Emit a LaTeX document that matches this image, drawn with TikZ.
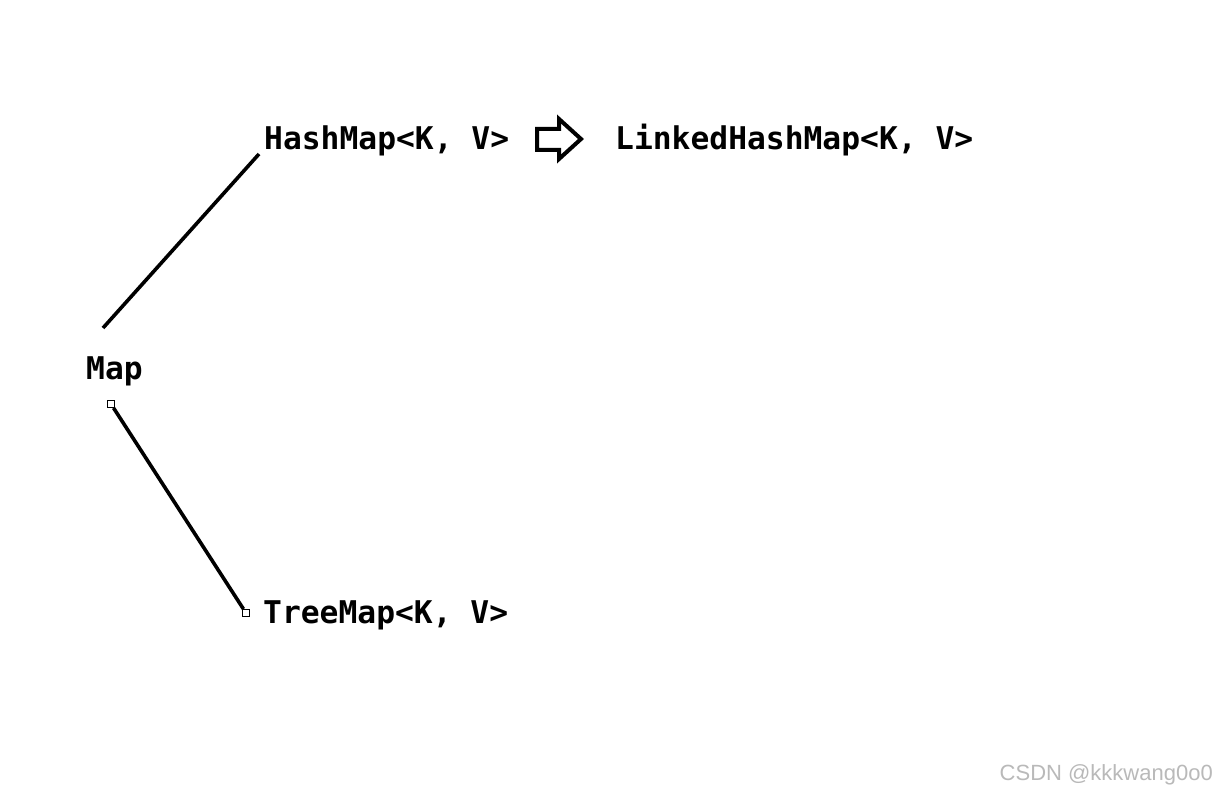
\documentclass[tikz,border=0pt]{standalone}
\usepackage{fontspec}
\setmonofont{DejaVu Sans Mono}
\setsansfont{Liberation Sans}
\definecolor{markgray}{RGB}{185,185,185}

\tikzset{
  cls/.style={anchor=base west, inner sep=0pt, font=\fontsize{31.3}{31.3}\selectfont\ttfamily\bfseries},
  link/.style={line width=3.6pt},
  handle/.style={draw, fill=white, line width=0.9pt, minimum size=7pt, inner sep=0pt},
}

\begin{document}
\begin{tikzpicture}[x=1pt, y=-1pt]
\useasboundingbox[fill=white] (0,0) rectangle (1218,791);

\node[cls] (hashmap) at (264,150) {HashMap<K, V>};
\node[cls] (linked)  at (615,150) {LinkedHashMap<K, V>};
\node[cls] (map)     at (86,380)  {Map};
\node[cls] (treemap) at (263,623) {TreeMap<K, V>};

% Map -> HashMap
\coordinate (map-up) at (103,328);
\coordinate (hash-in) at (259,154);
\draw[link] (map-up) -- (hash-in);

% Map -> TreeMap, with handles at both ends
\node[handle] (map-down) at (111,404) {};
\node[handle] (tree-in)  at (246,613) {};
\draw[link] (map-down) -- (tree-in);

% hollow block arrow HashMap => LinkedHashMap
\draw[line width=4pt, line join=miter]
  (537,129) -- (559,129) -- (559,119) -- (581,139) -- (559,159)
  -- (559,150) -- (537,150) -- cycle;

\node[anchor=base east, inner sep=0pt, text=markgray,
      font=\fontsize{22}{22}\selectfont\sffamily] (mark) at (1213,780) {CSDN @kkkwang0o0};
\end{tikzpicture}
\end{document}
